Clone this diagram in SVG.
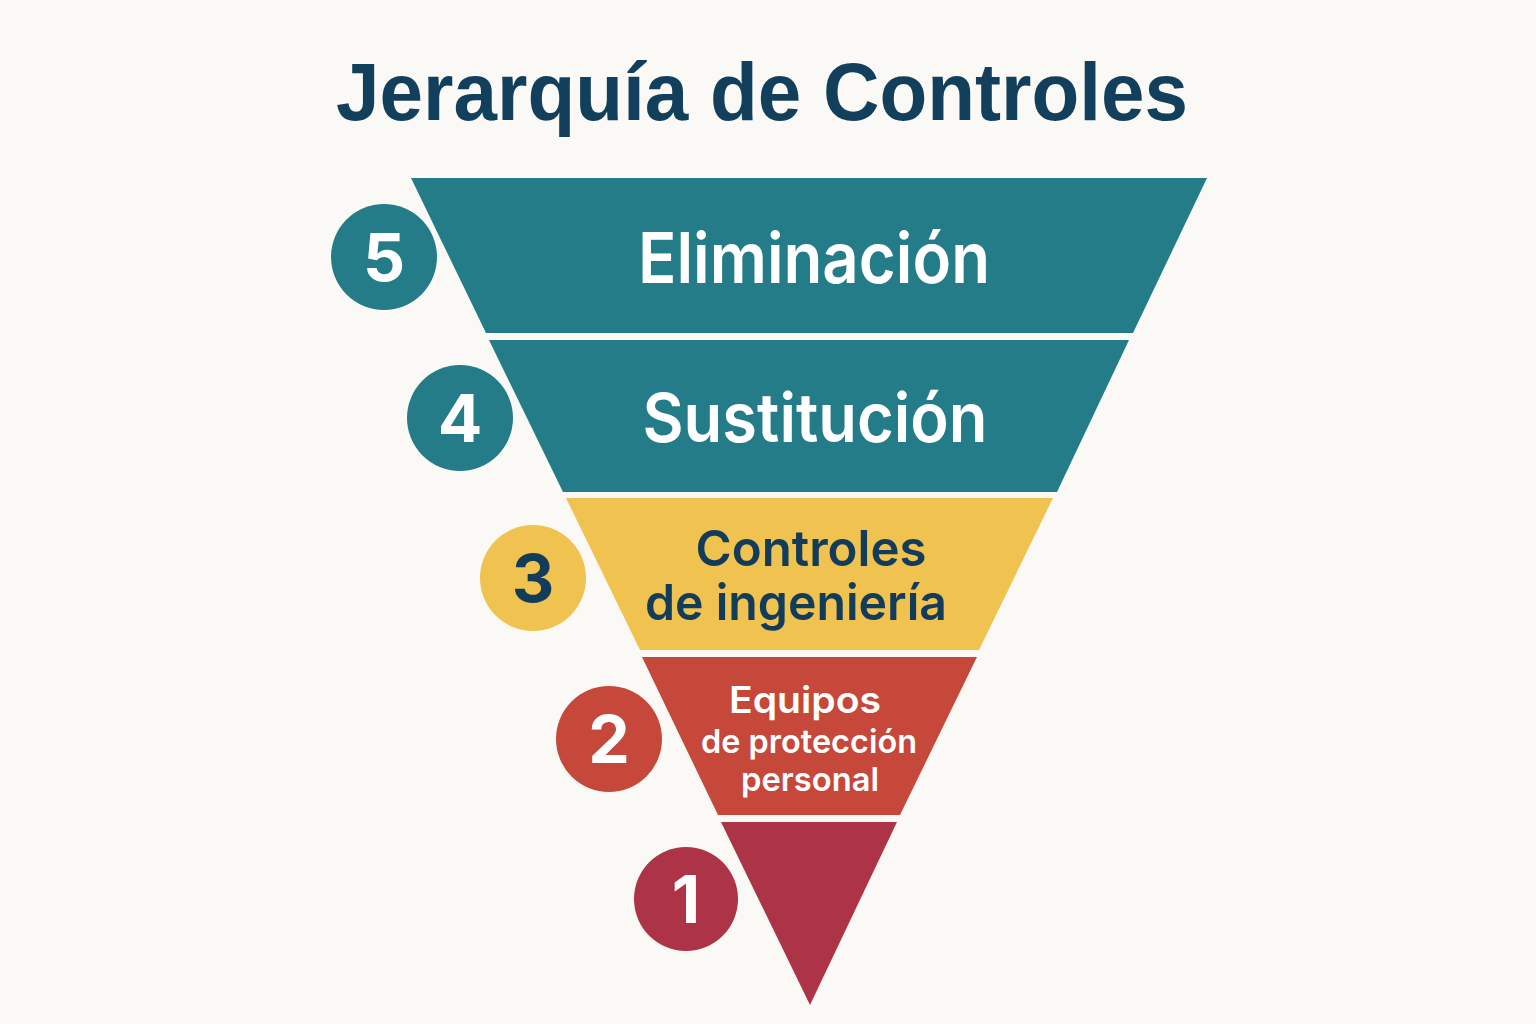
<svg xmlns="http://www.w3.org/2000/svg" width="1536" height="1024" viewBox="0 0 1536 1024">
<style>
.title{font-family:"Liberation Sans",Arial,sans-serif;font-weight:700;font-size:82px;fill:#123F5B}
.lbl{font-family:Inter,"Open Sans",sans-serif;font-weight:600;text-anchor:middle}
.num{font-family:Inter,"Liberation Sans",sans-serif;font-weight:700;font-size:66px;text-anchor:middle}
.w{fill:#FFFFFF}
.d{fill:#133C5A}
.teal{fill:#237C88}
.yel{fill:#F0C24F}
.red{fill:#C6483A}
.crim{fill:#AC3446}
</style>
<rect width="1536" height="1024" fill="#FAF9F6"/>
<text class="title" x="762" y="120" text-anchor="middle" textLength="852" lengthAdjust="spacingAndGlyphs">Jerarquía de Controles</text>
<g id="level5">
<polygon class="teal" points="411,178 1207,178 1133,333 486,333"/>
<circle class="teal" cx="384" cy="257" r="53"/>
<text class="num w" x="384" y="281">5</text>
<text class="lbl w" x="814" y="283" font-size="70" textLength="352" lengthAdjust="spacingAndGlyphs">Eliminación</text>
</g>
<g id="level4">
<polygon class="teal" points="489,340 1129,340 1057,492 563,492"/>
<circle class="teal" cx="460" cy="418" r="53"/>
<text class="num w" x="460" y="442">4</text>
<text class="lbl w" x="815" y="442" font-size="68" textLength="345" lengthAdjust="spacingAndGlyphs">Sustitución</text>
</g>
<g id="level3">
<polygon class="yel" points="566,498 1053,498 979,650 640,650"/>
<circle class="yel" cx="533" cy="578" r="53"/>
<text class="num d" x="533" y="602">3</text>
<text class="lbl d" x="811" y="566" font-size="50" textLength="231" lengthAdjust="spacingAndGlyphs">Controles</text>
<text class="lbl d" x="796" y="620" font-size="50" textLength="302" lengthAdjust="spacingAndGlyphs">de ingeniería</text>
</g>
<g id="level2">
<polygon class="red" points="642,657 977,657 900,815 718,815"/>
<circle class="red" cx="609" cy="739" r="53"/>
<text class="num w" x="609" y="763">2</text>
<text class="lbl w" x="805" y="713" font-size="37" textLength="152" lengthAdjust="spacingAndGlyphs">Equipos</text>
<text class="lbl w" x="809" y="753" font-size="33" textLength="216" lengthAdjust="spacingAndGlyphs">de protección</text>
<text class="lbl w" x="810" y="791" font-size="33" textLength="138" lengthAdjust="spacingAndGlyphs">personal</text>
</g>
<g id="level1">
<polygon class="crim" points="721,822 897,822 810,1005"/>
<circle class="crim" cx="686" cy="899" r="52"/>
<text class="num w" x="686" y="923">1</text>
</g>
<g id="connectors"/>
</svg>
